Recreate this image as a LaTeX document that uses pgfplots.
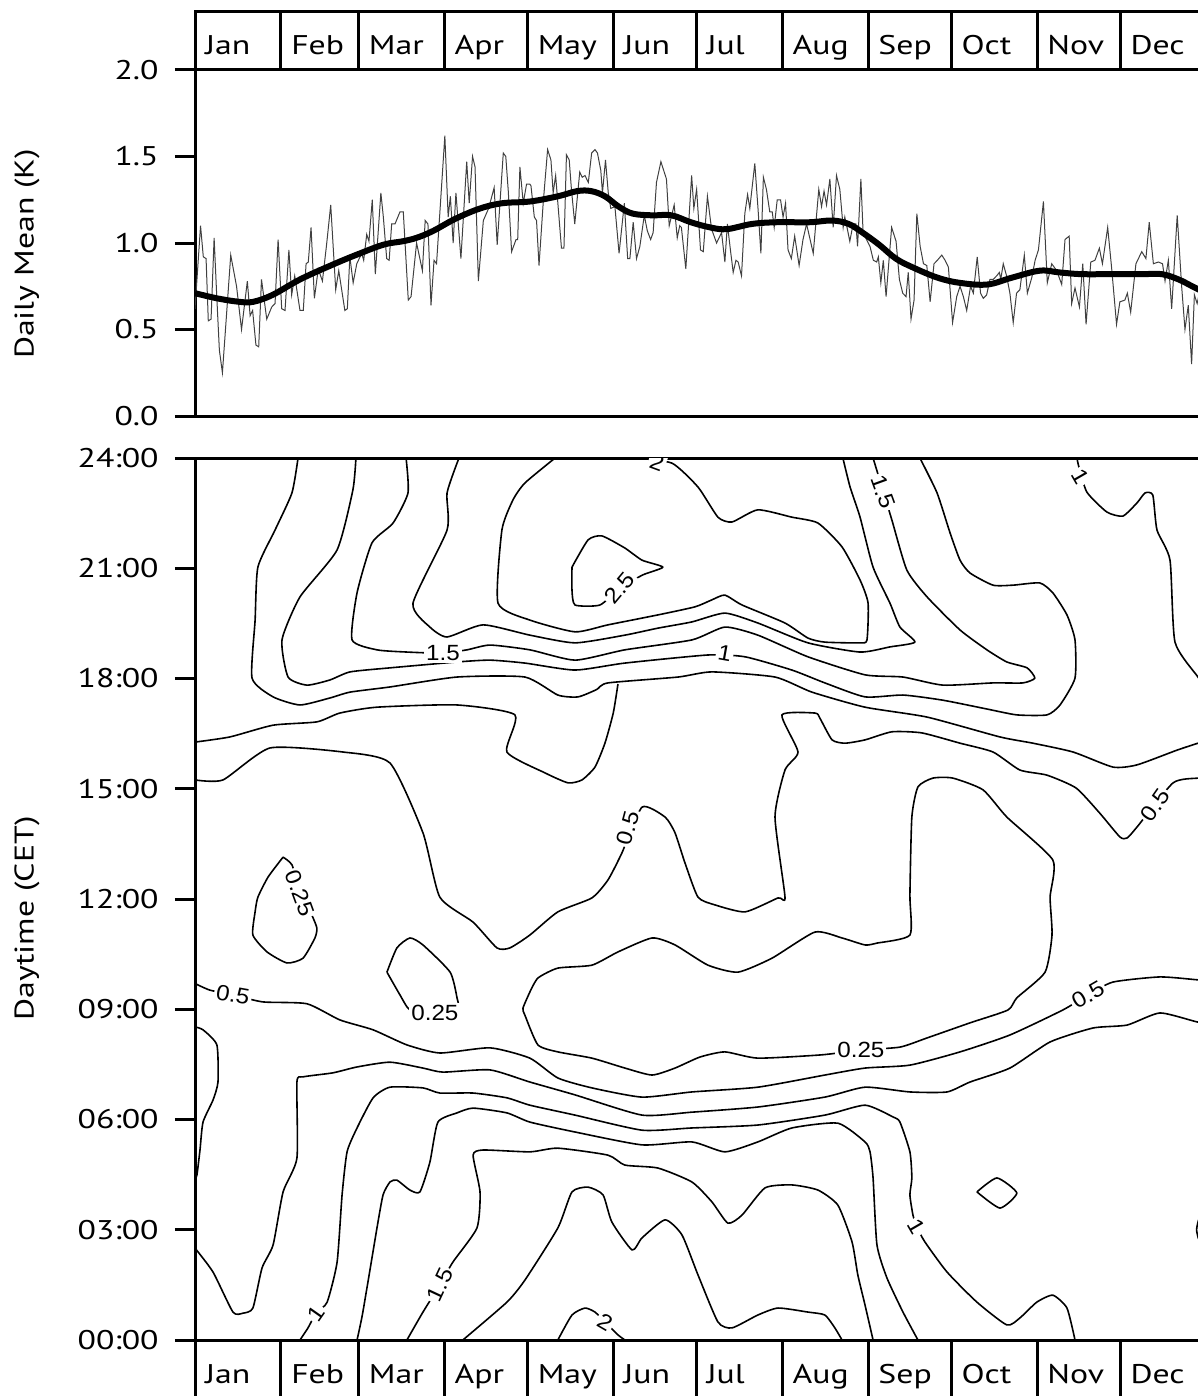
\documentclass[border=0pt]{standalone}
\usepackage{pgfplots}
\pgfplotsset{compat=1.18}
\usepackage{fontspec}
\setmainfont{PT Sans}[FakeStretch=1.25]
\newfontfamily\clabfont{Liberation Sans}[FakeStretch=1.1]
\newcommand\lblsize{\fontsize{13.5}{16}\selectfont}
\pgfplotsset{
  base/.style={anchor=south west, scale only axis, width=505.5pt, xmin=0, xmax=365,
    axis line style={line width=1.5pt}, tick style={black, line width=1.5pt},
    major tick length=10pt, tick align=outside, ytick pos=left, xtick=\empty,
    tick label style={font=\lblsize},
    yticklabel style={anchor=east, inner sep=0pt, xshift=-8pt}},
  mbox/.style={base, height=29pt, ymin=0, ymax=1, ytick=\empty,
    xtick={31,59,90,120,151,181,212,243,273,304,334}, xticklabel={\relax},
    major tick length=0pt, xmajorgrids, grid style={black, line width=1.5pt}},
  cl/.style={black, line width=0.8pt, line join=round, smooth, tension=0.35},
}
\tikzset{mlab/.style={anchor=base west, inner sep=0pt, xshift=5pt, yshift=7.5pt, font=\lblsize},
  clab/.style={fill=white, inner sep=1pt, font=\clabfont\fontsize{11}{12}\selectfont}}
\newcommand\months{%
  \node[mlab] at (axis cs:0,0) {Jan};
  \node[mlab] at (axis cs:31,0) {Feb};
  \node[mlab] at (axis cs:59,0) {Mar};
  \node[mlab] at (axis cs:90,0) {Apr};
  \node[mlab] at (axis cs:120,0) {May};
  \node[mlab] at (axis cs:151,0) {Jun};
  \node[mlab] at (axis cs:181,0) {Jul};
  \node[mlab] at (axis cs:212,0) {Aug};
  \node[mlab] at (axis cs:243,0) {Sep};
  \node[mlab] at (axis cs:273,0) {Oct};
  \node[mlab] at (axis cs:304,0) {Nov};
  \node[mlab] at (axis cs:334,0) {Dec};}
\begin{document}
\begin{tikzpicture}
\useasboundingbox (0,0) rectangle (599pt,-698pt);
% top month boxes
\begin{axis}[mbox, at={(97.5pt,-35pt)}]
\months
\end{axis}
% daily mean panel
\begin{axis}[base, at={(97.5pt,-208pt)}, height=173pt, ymin=0, ymax=2,
  ytick={0,0.5,1,1.5,2}, yticklabels={0.0,0.5,1.0,1.5,2.0}]
\addplot[black!75, line width=0.5pt] coordinates {
(0,0.62) (2,1.10) (3,0.92) (4,0.91) (4.8,0.55) (5.8,0.56) (6.9,1.03) (7.8,0.71) (8.8,0.38) (9.9,0.25) (11.4,0.59) (12.9,0.93) (15,0.75) (16.8,0.50) (18.9,0.78) (19.9,0.58) (20.8,0.61) (22,0.41) (23,0.40) (24,0.79) (25.9,0.56) (27.7,0.63) (28.9,0.65) (30,1.02) (31.3,0.62) (32.5,0.61) (33.9,0.96) (34.9,0.70) (36,0.81) (37.9,0.61) (39.1,0.61) (40.1,0.88) (40.9,0.89) (41.9,1.09) (43.1,0.68) (44.5,0.85) (46,0.78) (47.5,0.99) (49,1.22) (50.8,0.73) (51.9,0.84) (54.1,0.61) (55,0.62) (55.9,0.92) (57.1,0.77) (58.4,0.88) (60.2,0.94) (60.9,0.90) (62,1.05) (62.8,1.01) (64,1.25) (65.1,0.82) (67.1,1.29) (68,1.15) (69.2,0.91) (70.1,0.90) (71,1.11) (72.2,1.11) (74,1.18) (75.2,1.18) (77,0.67) (78,0.69) (80,1.00) (82.1,0.84) (83.1,1.13) (84.1,1.11) (85.2,0.64) (86.3,0.90) (87.2,0.88) (90.2,1.62) (91.4,1.15) (92.2,1.27) (93.2,1.00) (94.2,1.29) (96,0.91) (98.1,1.47) (99,1.23) (100.2,1.50) (101.1,1.44) (102.3,0.78) (104.1,1.13) (106,1.20) (108,1.32) (109.1,0.99) (111.3,1.52) (112.2,1.50) (113.1,1.30) (114.3,0.95) (115.9,1.02) (116.5,1.02) (117.3,1.44) (118.5,1.23) (119.7,1.34) (120.9,1.34)
(121.3,1.33) (122.5,1.15) (123.3,1.13) (124.2,0.87) (125.7,1.23) (127.3,1.54) (128.5,1.48) (129.3,1.29) (130.2,1.39) (131.1,1.21) (132.3,0.97) (133.2,0.97) (134.1,1.51) (135.1,1.48) (135.9,1.31) (137.1,1.11) (138.9,1.41) (139.8,1.38) (140.8,1.39) (142,1.35) (143.2,1.52) (144.4,1.54) (145.3,1.52) (146.5,1.42) (147.1,1.29) (148.2,1.48) (149.2,1.29) (150.1,1.20) (151.6,1.21) (153.1,0.94) (155,1.23) (156.2,0.91) (157,0.91) (158.2,1.12) (159.4,0.91) (160.6,0.98) (162.2,1.16) (163.3,1.07) (164.5,1.02) (165.4,1.06) (166.6,1.35) (168.2,1.47) (170.2,1.37) (171.2,1.10) (173,1.22) (174.1,1.03) (175,1.10) (175.6,1.09) (177.2,0.85) (179.3,1.39) (180.1,1.20) (181.1,1.31) (182.5,0.96) (183.5,0.95) (185,1.27) (186.5,1.08) (188.3,1.00) (190.1,1.06) (191.3,0.89) (192.2,1.11) (193.3,0.96) (194.3,0.83) (195.3,0.90) (196.1,0.89) (197.3,0.81) (198.5,1.17) (199.5,1.28) (200.3,1.20) (202.1,1.46) (203.3,1.19) (204.3,0.94) (205.2,1.38) (206.3,1.31) (207.5,1.18) (208.4,1.18) (209.1,1.09) (210.2,1.25) (211.4,1.25) (212.3,1.15) (213.2,1.23) (214.1,0.96) (215.3,0.91) (216.5,1.04) (218.1,0.87) (219.5,1.02) (220.8,1.11) (223.2,0.94) (225.2,1.31) (226.2,1.21) (227.1,1.30) (228,1.22) (229.2,1.37) (230.4,1.09) (231.6,1.39) (232.8,1.31) (234,1.09) (234.6,1.15) (235.4,1.09) (236.4,1.01) (237.6,1.11) (238.6,1.11) (239.2,0.98) (240.4,1.37) (241.2,1.06)
(243.7,0.98) (244.9,0.90) (246.1,0.89) (246.7,0.92) (247.6,0.77) (248.5,0.90) (249.5,0.69) (251.5,1.09) (253.1,1.01) (254.3,0.79) (255.5,0.71) (256.7,0.69) (257.5,0.83) (258.5,0.56) (259.6,0.67) (260.6,1.17) (261.8,0.98) (263,0.88) (264.2,0.87) (265.4,0.66) (266.8,0.88) (268,0.90) (269.6,0.93) (270.8,0.90) (272,0.86) (273.5,0.54) (275,0.69) (276.2,0.75) (277.4,0.69) (278.6,0.61) (280,0.75) (281,0.71) (282.4,0.92) (283.6,0.71) (284.6,0.68) (285.8,0.70) (287,0.79) (288.2,0.79) (289.4,0.81) (290.4,0.83) (290.9,0.79) (291.8,0.88) (293,0.81) (294.2,0.71) (295.4,0.54) (296.6,0.71) (297.8,0.73) (299.4,0.93) (300.5,0.71) (302.1,0.80) (303.3,0.90) (304.5,0.96) (306.3,1.24) (307.7,0.77) (309.3,0.88) (311.1,0.84) (312.9,0.76) (314.1,1.02) (315.6,1.04) (316.5,0.65) (317.7,0.74) (319.3,0.63) (320.5,0.88) (321.7,0.53) (323.4,0.89) (324.9,0.90) (326.5,0.97) (327.6,0.88) (329.5,1.09) (330.9,0.86) (332.7,0.53) (333.9,0.66) (335.7,0.67) (336.6,0.71) (337.8,0.60) (339.7,0.88) (341.8,0.95) (343.3,0.91) (344.5,1.12) (346,0.88) (347.8,0.89) (349.3,0.88) (350.2,0.78) (351.4,0.90) (352.6,0.62) (354.6,1.16) (356.2,0.75) (357.4,0.50) (358.6,0.64) (359.8,0.30) (360.8,0.70) (361.8,0.65) (363,0.74) (365,0.70)};
\addplot[black, line width=3pt, smooth, tension=0.6] coordinates {
(0,0.71) (8,0.68) (16,0.66) (21,0.66) (28,0.70) (38,0.79) (49,0.87) (58,0.93) (68,0.99) (75,1.01) (80,1.03) (86,1.07) (94,1.14) (103,1.20) (111,1.23) (121,1.24) (131,1.27) (138,1.30) (143,1.30) (148,1.27) (153,1.21) (158,1.17) (165,1.16) (172,1.16) (179,1.12) (186,1.09) (192,1.08) (201,1.11) (210,1.12) (222,1.12) (230,1.13) (236,1.11) (241,1.06) (247,0.99) (253,0.91) (259,0.86) (268,0.80) (276,0.77) (286,0.76) (295,0.80) (305,0.84) (312,0.83) (320,0.82) (331,0.82) (342,0.82) (349,0.82) (355,0.79) (360,0.75) (365,0.71)};
\end{axis}
% contour panel
\begin{axis}[base, at={(97.5pt,-670pt)}, height=441pt, ymin=0, ymax=24,
  ytick={0,3,...,24}, yticklabels={00:00,03:00,06:00,09:00,12:00,15:00,18:00,21:00,24:00}]
% evening band
\addplot[cl] coordinates {(37.2,24) (35.0,23.05) (28.9,22.04) (22.7,21.03) (21.7,19.59) (20.6,18.01) (28.2,17.50) (37.9,17.28) (48.7,17.47) (56.0,17.63) (70.4,17.77) (94.6,18.04) (119.1,18.04) (131.0,17.55) (138.3,17.50) (145,17.7) (149.1,17.88) (174.4,18.04) (186.6,18.18) (209.4,18.04) (222.7,17.63) (241.9,17.22) (264.3,16.95) (290.6,16.41) (302.5,16.24) (317.0,16.00) (331.4,15.59) (340.1,15.65) (354.5,16.05) (362.1,16.24) (365,16.3)};
\addplot[cl] coordinates {(58.1,24) (57.0,23.13) (51.3,21.50) (37.9,20.22) (31.4,19.05) (33.6,18.04) (40.4,17.82) (48.7,17.96) (56.0,18.18) (70.4,18.29) (94.6,18.45) (106.5,18.50) (119.1,18.42) (137.2,18.23) (155.2,18.42) (185.2,18.64) (198.6,18.59) (215.5,18.23) (227.4,17.88) (241.9,17.50) (255.6,17.55) (270.0,17.41) (285.9,17.17) (296.7,17.01) (307.6,17.01) (312.3,17.28) (317.7,18.01) (317.7,19.05) (314.8,19.73) (309.7,20.33) (305.0,20.60) (295.3,20.54) (288.1,20.54) (279.8,20.87) (276.2,21.22) (272.6,21.96) (267.9,23.05) (261.7,24)};
\addplot[cl] coordinates {(76.2,24) (76.9,23.05) (71.5,22.23) (63.9,21.69) (58.5,20.33) (56.7,19.05) (65.7,18.78) (76.5,18.72) (89.5,18.69) (98.2,18.78) (106.5,18.91) (120.9,18.78) (137.2,18.50) (155.2,18.78) (179.4,19.05) (191.3,19.40) (203.2,19.18) (221.3,18.59) (241.9,18.10) (255.6,18.04) (270.0,17.82) (288.1,17.88) (298.9,17.88) (303.2,18.01) (300.4,18.29) (293.1,18.45) (285.9,18.78) (276.2,19.32) (264.3,20.22) (257.0,20.95) (251.6,22.31) (248.3,23.13) (244.8,24)};
\addplot[cl] coordinates {(95.3,24) (91.0,23.05) (91.0,22.04) (78.7,20.05) (84.8,19.40) (91.0,19.13) (104.0,19.46) (120.9,19.18) (137.2,18.97) (155.2,19.18) (167.1,19.37) (179.4,19.54) (191.3,19.78) (203.2,19.51) (221.3,18.97) (240.1,18.72) (250.9,18.86) (259.9,18.99) (254.5,19.40) (250.9,20.05) (244.8,21.03) (240.1,22.39) (236.5,23.21) (233.9,24)};
\addplot[cl] coordinates {(130.0,24) (119.1,23.32) (114.8,22.86) (110.8,22.04) (109.4,20.05) (120.9,19.59) (137.2,19.27) (149.1,19.46) (167.1,19.73) (180.5,19.95) (186.6,20.14) (191.3,20.27) (197.5,20.00) (213.0,19.51) (221.3,19.10) (227.4,18.99) (240.1,18.97) (242.6,19.05) (243.0,20.05) (240.1,20.68) (233.6,21.58) (224.9,22.23) (215.5,22.39) (203.2,22.59) (193.9,22.26) (188.8,22.39) (181.6,23.21) (172.2,23.86) (158.8,24)};
\addplot[cl] coordinates {(136.1,21.03) (141.9,21.77) (146.9,21.88) (155.2,21.55) (161.4,21.22) (168.9,21.03) (161.7,20.82) (153.4,20.46) (146.2,20.00) (137.2,20.00) (136.1,20.41) (136.1,21.03)};
\addplot[cl] coordinates {(318.4,24) (319.1,23.76) (322.0,23.07) (329.2,22.53) (335.0,22.42) (340.1,22.78) (343.0,23.05) (345.8,22.99) (347.3,22.04) (352.0,21.22) (353.8,18.99) (362.1,18.04) (365,17.7)};
% afternoon
\addplot[cl] coordinates {(0,16.27) (12.6,16.41) (28.2,16.73) (44.0,16.82) (52.3,17.06) (65.7,17.22) (94.6,17.28) (115.5,17.01) (112.6,16.00) (126.4,15.43) (134.7,15.16) (139.7,15.24) (144.4,15.59) (148.0,16.24) (151.0,17.06) (152.7,17.85)};
\addplot[cl] coordinates {(0,15.24) (10.1,15.24) (27.1,16.11) (53.4,16.00) (70.4,15.70) (82.3,13.80) (88.4,12.05) (100.4,11.37) (109.0,10.67) (113.7,10.67) (120.9,11.02) (131.0,11.65) (143.3,12.03) (149.1,12.52) (154.1,13.25) (161.4,14.50) (169.7,14.23) (173.3,13.80) (176.9,12.98) (181.6,12.05) (187.7,11.84) (198.6,11.65) (210.5,12.03) (213.0,12.05) (209.4,14.23) (213.0,15.51) (217.7,16.00) (211.9,17.01) (223.8,17.06) (225.6,16.92) (230.0,16.33) (234.7,16.24) (241.9,16.33) (251.6,16.55) (262.4,16.52) (276.2,16.24) (288.1,16.00) (297.8,15.51) (307.6,15.37) (318.1,15.02) (326.6,14.34) (333.9,13.69) (336.5,13.66) (340.1,13.96) (353.1,15.16) (362.1,15.29) (365,15.3)};
\addplot[cl] coordinates {(31.8,13.14) (26.4,12.60) (22.7,12.05) (21.7,11.65) (20.9,11.02) (26.0,10.56) (33.2,10.26) (39.0,10.39) (43.3,10.94) (44.0,11.21) (42.2,11.56) (37.9,12.24) (35.0,12.93) (31.8,13.14)};
\addplot[cl] coordinates {(69.3,10.01) (72.9,10.67) (77.6,10.94) (82.3,10.75) (92.1,10.01) (94.6,9.31) (94.9,8.98) (85,8.95) (77.6,8.98) (74.0,9.39) (69.3,10.01)};
\addplot[cl] coordinates {(120.9,9.47) (123.8,9.85) (131.0,10.12) (143.3,10.20) (152.7,10.56) (165.0,10.94) (173.3,10.75) (185.2,10.20) (196.0,10.01) (208.3,10.39) (223.8,11.10) (233.6,10.94) (241.9,10.75) (246.2,10.80) (258.1,11.02) (258.1,12.11) (258.8,14.23) (261.0,15.05) (266.4,15.29) (273.6,15.29) (284.5,14.97) (293.1,14.23) (309.7,13.06) (308.7,12.05) (309.4,11.02) (306.9,10.01) (296.7,9.31) (293.5,8.98) (279.8,8.63) (264.3,8.22) (254.5,7.97) (240.4,7.89) (226.3,7.76) (203.2,7.67) (191.3,7.84) (182.3,7.70) (173.3,7.40) (165.0,7.21) (155.2,7.40) (143.3,7.67) (131.0,7.84) (123.8,8.03) (119.1,8.84) (118.4,9.03) (120.9,9.47)};
% morning
\addplot[cl] coordinates {(0,9.7) (5.4,9.52) (13.7,9.39) (24.5,9.20) (40.4,9.15) (52.3,8.71) (64.3,8.44) (76.5,8.03) (88.4,7.81) (106.5,7.95) (120.9,7.67) (131.0,7.13) (143.3,6.86) (161.4,6.61) (179.4,6.75) (203.2,6.88) (227.4,7.21) (241.9,7.40) (258.1,7.48) (276.2,7.84) (294.2,8.30) (313.3,8.98) (322.4,9.39) (331.4,9.74) (348.4,9.88) (362.1,9.80) (365,9.8)};
\addplot[cl] coordinates {(0,8.52) (2.9,8.44) (7.9,8.03) (8.3,7.02) (6.5,6.53) (2.9,5.93) (1.8,5.17) (0.7,4.49) (0,4.35)};
\addplot[cl] coordinates {(0,2.50) (6.5,1.85) (13.7,0.76) (17.3,0.73) (20.9,0.87) (24.2,1.96) (28.2,2.59) (31.8,4.03) (36.8,4.95) (36.8,7.02) (39.0,7.16) (49.8,7.27) (58.5,7.43) (70.4,7.56) (82.3,7.40) (89.5,7.29) (106.5,7.35) (120.9,7.02) (137.2,6.67) (161.4,6.12) (179.4,6.20) (203.2,6.34) (227.4,6.61) (241.9,6.88) (258.1,6.75) (271.5,6.75) (279.8,7.02) (294.2,7.40) (308.7,8.11) (324.2,8.49) (336.5,8.57) (348.4,8.90) (362.1,8.65) (365,8.7)};
\addplot[cl] coordinates {(37.9,0) (40.8,0.33) (43.7,0.73) (47.7,1.03) (51.3,2.12) (53.1,3.95) (54.9,5.12) (58.5,5.77) (64.3,6.59) (70.4,6.88) (82.3,6.86) (88.4,6.72) (100.4,6.72) (112.6,6.59) (120.9,6.39) (137.2,6.12) (161.4,5.71) (179.4,5.77) (203.2,5.85) (227.4,6.12) (241.9,6.39) (252.0,6.07) (254.5,5.93) (258.1,5.12) (258.8,4.41) (258.1,3.95) (259.2,3.40) (260.6,3.08) (263.5,2.67) (271.5,1.85) (282.3,1.03) (293.1,0.41) (297.8,0.60) (303.9,1.03) (309.7,1.22) (314.8,0.87) (317.7,0)};
\addplot[cl] coordinates {(58.5,0) (60.6,0.76) (65.7,3.05) (67.9,3.95) (70.4,4.30) (72.9,4.35) (77.6,4.08) (81.2,4.03) (84.8,4.84) (87.7,5.93) (94.6,6.18) (100.4,6.31) (112.6,6.18) (120.9,5.93) (137.2,5.66) (161.4,5.31) (179.4,5.39) (191.3,5.12) (203.2,5.39) (215.5,5.77) (232.1,5.90) (241.9,5.39) (243.7,5.12) (244.8,4.41) (246.2,2.59) (249.8,1.69) (255.6,0.76) (261.0,0)};
\addplot[cl] coordinates {(76.5,0) (82.3,0.76) (88.4,1.5) (93.1,2.12) (101.8,3.05) (102.9,4.03) (100.4,5.03) (104.0,5.17) (120.9,5.12) (131.0,5.22) (149.1,5.03) (155.2,4.76) (167.1,4.68) (179.4,4.30) (186.6,3.76) (192.4,3.18) (197.5,3.40) (205.8,4.14) (215.5,4.22) (224.9,4.08) (232.1,3.67) (237.2,2.67) (239.3,1.77) (241.9,0.95) (244.8,0)};
\addplot[cl] coordinates {(96.7,0) (112.6,1.03) (119.1,1.63) (131.0,3.05) (136.1,4.03) (141.9,4.16) (147.3,3.95) (150.5,3.21) (157.8,2.45) (161.4,2.78) (169.7,3.27) (175.8,2.86) (181.6,1.77) (188.8,0.49) (193.9,0.33) (203.2,0.68) (210.5,0.87) (221.3,0.76) (227.4,0.68) (231.0,0.33) (233.6,0)};
\addplot[cl] coordinates {(131.0,0) (136.1,0.68) (140.8,0.87) (144.4,0.76) (148.0,0.49) (152.7,0.14) (155.2,0)};
\addplot[cl] coordinates {(282.3,4.03) (289.5,4.41) (296.7,4.00) (290.6,3.59) (282.3,4.03)};
\addplot[cl] coordinates {(365,3.45) (362.5,3.3) (361.6,3.0) (362.5,2.72) (365,2.6)};
% labels
\node[clab] at (axis cs:89.5,18.69) {1.5};
\node[clab, rotate=-70] at (axis cs:248.4,23.07) {1.5};
\node[clab, rotate=-10] at (axis cs:191.3,18.69) {1};
\node[clab, rotate=-20] at (axis cs:166.8,23.88) {2};
\node[clab, rotate=50] at (axis cs:153.4,20.46) {2.5};
\node[clab, rotate=-60] at (axis cs:319.8,23.5) {1};
\node[clab, rotate=75] at (axis cs:156.3,13.93) {0.5};
\node[clab, rotate=55] at (axis cs:346.6,14.56) {0.5};
\node[clab, rotate=-70] at (axis cs:37.9,12.16) {0.25};
\node[clab] at (axis cs:86.6,8.90) {0.25};
\node[clab] at (axis cs:240.4,7.89) {0.25};
\node[clab, rotate=-10] at (axis cs:13.7,9.39) {0.5};
\node[clab, rotate=30] at (axis cs:322.4,9.39) {0.5};
\node[clab, rotate=55] at (axis cs:43.7,0.73) {1};
\node[clab, rotate=65] at (axis cs:88.4,1.5) {1.5};
\node[clab, rotate=-60] at (axis cs:260.6,3.08) {1};
\node[clab, rotate=-30] at (axis cs:148.0,0.49) {2};
\end{axis}
% bottom month boxes
\begin{axis}[mbox, at={(97.5pt,-699pt)}]
\months
\end{axis}
\node[rotate=90, font=\lblsize] at (13.5pt,-127pt) {Daily Mean (K)};
\node[rotate=90, font=\lblsize] at (13.5pt,-459pt) {Daytime (CET)};
\end{tikzpicture}
\end{document}
